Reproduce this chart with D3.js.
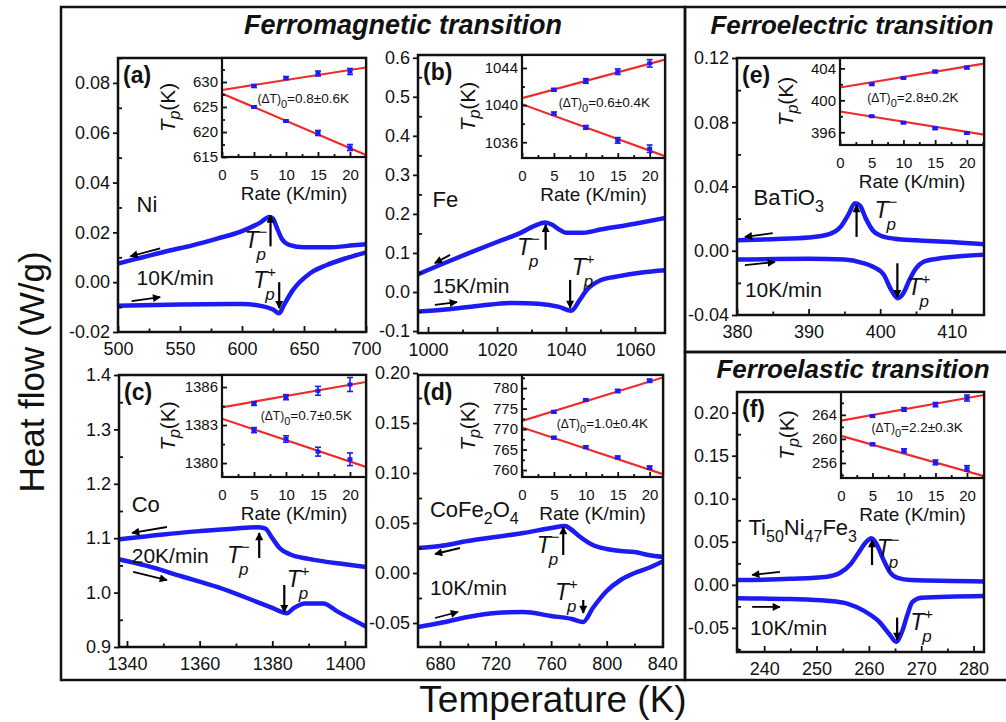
<!DOCTYPE html>
<html><head><meta charset="utf-8">
<script src="https://cdn.jsdelivr.net/npm/d3@7"></script>
<style>body{margin:0;background:#fff}svg{display:block}text{font-family:"Liberation Sans",Arial,sans-serif;fill:#111}</style>
</head><body><script>
// ---------------- DATA ----------------
// panel (a) Ni
const aCool=[[500,0.0075],[520,0.0100],[540,0.0125],[560,0.0148],[580,0.0175],[600,0.0205],[615,0.0240],[622,0.0262],[625,0.0255],[628,0.0220],[632,0.0175],[638,0.0150],[650,0.0140],[670,0.0140],[690,0.0148],[700,0.0152]];
const aHeat=[[500,-0.0095],[550,-0.0090],[600,-0.0088],[615,-0.0095],[625,-0.0110],[630,-0.0125],[634,-0.0090],[641,-0.0032],[655,0.0036],[668,0.0068],[685,0.0098],[700,0.0120]];
// panel (b) Fe
const bCool=[[997,0.045],[1005,0.075],[1012,0.100],[1020,0.128],[1027,0.152],[1031,0.170],[1034,0.178],[1036,0.172],[1038,0.160],[1040,0.152],[1045,0.152],[1050,0.160],[1060,0.175],[1069,0.190]];
const bHeat=[[997,-0.050],[1005,-0.045],[1015,-0.035],[1025,-0.028],[1032,-0.030],[1038,-0.038],[1041.5,-0.048],[1044,-0.020],[1046,0.005],[1050,0.030],[1055,0.040],[1062,0.050],[1069,0.056]];
// panel (c) Co
const cCool=[[1338,1.098],[1350,1.107],[1360,1.113],[1370,1.118],[1376,1.120],[1378,1.118],[1380,1.100],[1382,1.082],[1385,1.070],[1390,1.062],[1400,1.052],[1406,1.047]];
const cHeat=[[1338,1.061],[1345,1.050],[1355,1.030],[1365,1.010],[1375,0.985],[1380,0.972],[1384,0.962],[1386,0.972],[1389,0.980],[1394,0.980],[1398,0.965],[1406,0.937]];
// panel (d) CoFe2O4
const dCool=[[664,0.025],[680,0.027],[700,0.032],[720,0.036],[740,0.040],[760,0.045],[770,0.047],[774,0.044],[780,0.037],[790,0.028],[800,0.024],[810,0.022],[820,0.021],[830,0.018],[841,0.016]];
const dHeat=[[664,-0.054],[680,-0.050],[700,-0.044],[720,-0.040],[740,-0.039],[760,-0.043],[775,-0.046],[783,-0.049],[790,-0.035],[800,-0.018],[810,-0.007],[820,0.000],[830,0.005],[841,0.012]];
// panel (e) BaTiO3
const eCool=[[380,0.0065],[385,0.0072],[390,0.0082],[393,0.0105],[394.5,0.015],[395.5,0.022],[396.5,0.0295],[397.2,0.028],[398,0.020],[399,0.0125],[400,0.0095],[402,0.0075],[405,0.0065],[410,0.0055],[414.5,0.004]];
const eHeat=[[380,-0.0055],[390,-0.005],[395,-0.0055],[397.5,-0.0075],[399,-0.010],[400.5,-0.015],[401.5,-0.024],[402.4,-0.0295],[403.3,-0.026],[404,-0.019],[405,-0.011],[406,-0.007],[408,-0.005],[414.5,-0.0025]];
// panel (f) Ti50Ni47Fe3
const fCool=[[235,0.0055],[245,0.0070],[252,0.0095],[254.5,0.014],[256.5,0.024],[258,0.037],[259.5,0.050],[260.5,0.054],[261.5,0.047],[262.8,0.029],[264,0.015],[265.5,0.008],[268,0.0055],[282,0.004]];
const fHeat=[[235,-0.0155],[245,-0.0165],[252,-0.0185],[256,-0.022],[259,-0.030],[262,-0.043],[264,-0.058],[265.2,-0.066],[266.3,-0.055],[267.3,-0.036],[268.3,-0.020],[270,-0.015],[282,-0.013]];

// insets: rates, peak temperatures, error bars, fitted line ends (rate 0 and right edge)
const rates=[5,10,15,20];
const aUp=[629.2,630.8,631.7,632.1], aUpErr=[0.3,0.3,0.5,0.6], aDn=[625.0,622.2,619.8,616.9], aDnErr=[0.2,0.2,0.5,0.6], aFitUp=[628.4,632.9], aFitDn=[627.7,615.4];
const bUp=[1041.65,1042.6,1043.6,1044.5], bUpErr=[0.15,0.25,0.3,0.4], bDn=[1039.1,1037.6,1036.2,1035.3], bDnErr=[0.15,0.2,0.3,0.4], bFitUp=[1040.75,1044.9], bFitDn=[1040.1,1034.5];
const cUp=[1384.7,1385.2,1385.7,1386.2], cUpErr=[0.15,0.2,0.35,0.55], cDn=[1382.6,1381.9,1380.9,1380.3], cDnErr=[0.2,0.25,0.35,0.5], cFitUp=[1384.4,1386.4], cFitDn=[1383.5,1379.7];
const dUp=[774.2,777.1,779.3,781.8], dUpErr=[0.3,0.3,0.4,0.4], dDn=[767.9,765.6,763.1,760.6], dDnErr=[0.3,0.3,0.3,0.4], dFitUp=[772.0,782.6], dFitDn=[770.4,759.0];
const eUp=[402.0,402.8,403.6,404.1], eUpErr=[0.1,0.1,0.15,0.15], eDn=[398.0,397.2,396.5,395.9], eDnErr=[0.1,0.1,0.15,0.15], eFitUp=[401.6,404.6], eFitDn=[398.6,395.7];
const fUp=[263.8,264.9,265.7,266.8], fUpErr=[0.2,0.3,0.35,0.5], fDn=[259.1,258.05,256.1,255.1], fDnErr=[0.2,0.3,0.4,0.45], fFitUp=[263.05,267.3], fFitDn=[260.5,253.8];
const dTtext=["0.8\u00B10.6K","0.6\u00B10.4K","0.7\u00B10.5K","1.0\u00B10.4K","2.8\u00B10.2K","2.2\u00B10.3K"];

// tick labels
const aXT=[500,550,600,650,700], aYT=[-0.02,0,0.02,0.04,0.06,0.08];
const bXT=[1000,1020,1040,1060], bYT=[-0.1,0,0.1,0.2,0.3,0.4,0.5,0.6];
const cXT=[1340,1360,1380,1400], cYT=[0.9,1.0,1.1,1.2,1.3,1.4];
const dXT=[680,720,760,800,840], dYT=[-0.05,0,0.05,0.10,0.15,0.20];
const eXT=[380,390,400,410], eYT=[-0.04,0,0.04,0.08,0.12];
const fXT=[240,250,260,270,280], fYT=[-0.05,0,0.05,0.10,0.15,0.20];
const insXT=[0,5,10,15,20];
const aIYT=[615,620,625,630], bIYT=[1036,1040,1044], cIYT=[1380,1383,1386], dIYT=[760,765,770,775,780], eIYT=[396,400,404], fIYT=[256,260,264];

const panelLabels=["(a)","(b)","(c)","(d)","(e)","(f)"];
const names=[[["Ni",0]],[["Fe",0]],[["Co",0]],[["CoFe",0],["2",1],["O",0],["4",1]],[["BaTiO",0],["3",1]],[["Ti",0],["50",1],["Ni",0],["47",1],["Fe",0],["3",1]]];
const rateLabels=["10K/min","15K/min","20K/min","10K/min","10K/min","10K/min"];
const titles=["Ferromagnetic transition","Ferroelectric transition","Ferroelastic transition"];

// ---------------- LAYOUT ----------------
const W=1006,H=722;
const svg=d3.select("body").append("svg").attr("width",W).attr("height",H);
const defs=svg.append("defs");
defs.append("marker").attr("id","ah").attr("viewBox","0 0 10 10").attr("refX",9).attr("refY",5)
  .attr("markerWidth",9).attr("markerHeight",8).attr("markerUnits","userSpaceOnUse").attr("orient","auto")
  .append("path").attr("d","M0,0L10,5L0,10z").attr("fill","#000");

// outer frames
const fr=svg.append("g").attr("fill","none").attr("stroke","#111").attr("stroke-width",2.5);
fr.append("rect").attr("x",61).attr("y",7).attr("width",624).attr("height",673);
fr.append("rect").attr("x",685).attr("y",7).attr("width",330).attr("height",345);
fr.append("rect").attr("x",685).attr("y",352).attr("width",330).attr("height",328);

svg.append("text").attr("x",403).attr("y",34).attr("text-anchor","middle").attr("font-size",27).attr("font-weight","bold").attr("font-style","italic").text(titles[0]);
svg.append("text").attr("x",852).attr("y",34).attr("text-anchor","middle").attr("font-size",26).attr("font-weight","bold").attr("font-style","italic").text(titles[1]);
svg.append("text").attr("x",853).attr("y",378).attr("text-anchor","middle").attr("font-size",26).attr("font-weight","bold").attr("font-style","italic").text(titles[2]);
svg.append("text").attr("transform","translate(44,372) rotate(-90)").attr("text-anchor","middle").attr("font-size",35).text("Heat flow (W/g)");
svg.append("text").attr("x",553).attr("y",712).attr("text-anchor","middle").attr("font-size",37).text("Temperature (K)");

const panels=[
 {box:{x0:118,x1:366,y0:58,y1:332}, xd:[500,700], yd:[-0.02,0.09], xt:aXT, yt:aYT, xm:25, ym:0.01, yf:".2f", cool:aCool, heat:aHeat,
  ins:{box:{x0:222,x1:366,y0:58,y1:157}, xmax:22.5, yd:[615,634.8], yt:aIYT, ym:2.5, up:aUp, upE:aUpErr, dn:aDn, dnE:aDnErr, fu:aFitUp, fd:aFitDn, dt:[12.7,625.8]},
  name:[515,0.028], rate:[515,-0.0012], ca:[[534,0.0136],[510,0.0104]], ha:[[511,-0.0076],[534,-0.006]],
  up:[[623,0.0144],[623,0.0268]], dn:[[630,0],[630,-0.0104]], tm:[602,0.0136], tpl:[609,-0.0024]},
 {box:{x0:418,x1:665,y0:55,y1:333}, xd:[997.1,1068.7], yd:[-0.105,0.607], xt:bXT, yt:bYT, xm:10, ym:0.05, yf:".1f", cool:bCool, heat:bHeat,
  ins:{box:{x0:522,x1:665,y0:55,y1:158}, xmax:22.4, yd:[1034.3,1045.4], yt:bIYT, ym:2, up:bUp, upE:bUpErr, dn:bDn, dnE:bDnErr, fu:bFitUp, fd:bFitDn, dt:[12.9,1039.8]},
  name:[1001.3,0.218], rate:[1001.3,-0.003], ca:[[1006.4,0.095],[1002,0.074]], ha:[[1002,-0.033],[1008.4,-0.026]],
  up:[[1034.1,0.108],[1034.1,0.172]], dn:[[1041.2,0.031],[1041.2,-0.041]], tm:[1025.8,0.095], tpl:[1041.7,0.044]},
 {box:{x0:119,x1:366,y0:375,y1:647}, xd:[1337.8,1405.8], yd:[0.9,1.4], xt:cXT, yt:cYT, xm:10, ym:0.05, yf:".1f", cool:cCool, heat:cHeat,
  ins:{box:{x0:222,x1:366,y0:375,y1:477}, xmax:22.5, yd:[1378.9,1386.95], yt:cIYT, ym:1.5, up:cUp, upE:cUpErr, dn:cDn, dnE:cDnErr, fu:cFitUp, fd:cFitDn, dt:[13.2,1383.4]},
  name:[1341.3,1.149], rate:[1341.3,1.054], ca:[[1351,1.1206],[1341.4,1.1096]], ha:[[1341.7,1.038],[1351,1.023]],
  up:[[1376.4,1.0636],[1376.4,1.1096]], dn:[[1383.3,1.014],[1383.3,0.964]], tm:[1367.5,1.054], tpl:[1384,1.011]},
 {box:{x0:418,x1:663,y0:375,y1:647}, xd:[664.2,840.5], yd:[-0.074,0.198], xt:dXT, yt:dYT, xm:20, ym:0.025, yf:".2f", cool:dCool, heat:dHeat,
  ins:{box:{x0:522,x1:663,y0:375,y1:477}, xmax:22.1, yd:[758.3,783.2], yt:dIYT, ym:2.5, up:dUp, upE:dUpErr, dn:dDn, dnE:dDnErr, fu:dFitUp, fd:dFitDn, dt:[12.6,770.3]},
  name:[672.8,0.0563], rate:[672.8,-0.022], ca:[[694.4,0.025],[676.4,0.019]], ha:[[676.4,-0.045],[693,-0.039]],
  up:[[768.7,0.018],[768.7,0.046]], dn:[[783.1,-0.027],[783.1,-0.040]], tm:[749.6,0.0197], tpl:[762.7,-0.027]},
 {box:{x0:737,x1:984,y0:58,y1:315}, xd:[380,414.5], yd:[-0.04,0.12], xt:eXT, yt:eYT, xm:5, ym:0.02, yf:".2f", cool:eCool, heat:eHeat,
  ins:{box:{x0:840,x1:984,y0:58,y1:145}, xmax:22.7, yd:[394.4,405.3], yt:eIYT, ym:2, up:eUp, upE:eUpErr, dn:eDn, dnE:eDnErr, fu:eFitUp, fd:eFitDn, dt:[11.5,399.8]},
  name:[382.3,0.0285], rate:[381.1,-0.0286], ca:[[385,0.011],[381.1,0.0086]], ha:[[381.1,-0.0089],[385.3,-0.007]],
  up:[[396.7,0.0086],[396.7,0.0285]], dn:[[402.4,-0.0078],[402.4,-0.0289]], tm:[399.2,0.0202], tpl:[403.8,-0.0276]},
 {box:{x0:737,x1:984,y0:392,y1:652}, xd:[234.8,282], yd:[-0.078,0.224], xt:fXT, yt:fYT, xm:5, ym:0.025, yf:".2f", cool:fCool, heat:fHeat,
  ins:{box:{x0:841,x1:984,y0:392,y1:478}, xmax:22.7, yd:[253.5,267.8], yt:fIYT, ym:2, up:fUp, upE:fUpErr, dn:fDn, dnE:fDnErr, fu:fFitUp, fd:fFitDn, dt:[12.1,261.2]},
  name:[237.0,0.058], rate:[237.3,-0.058], ca:[[243,0.015],[237.7,0.0116]], ha:[[237.7,-0.0256],[243,-0.0256]],
  up:[[260.6,0.023],[260.6,0.052]], dn:[[265.4,-0.038],[265.4,-0.064]], tm:[261.5,0.033], tpl:[267.9,-0.052]}
];

const BLUE="#1c1cf2", RED="#f02a2a";
const dash=s=>s.replace("\u2212","-");

function minorVals(dom,step){const out=[];const s=Math.ceil(dom[0]/step-1e-9);for(let k=s;k*step<=dom[1]+1e-9;k++)out.push(+(k*step).toFixed(6));return out;}

function styleAxis(g,fs){g.select(".domain").remove();g.selectAll(".tick line").attr("stroke","#111").attr("stroke-width",1.8);g.selectAll("text").attr("font-size",fs).attr("font-family","'Liberation Sans',Arial,sans-serif").attr("fill","#111");}

function tp(g,x,y,sign){
  const t=g.append("g").attr("transform",`translate(${x},${y})`);
  t.append("text").attr("font-family","'Liberation Serif','DejaVu Serif',serif").attr("font-style","italic").attr("font-size",23).text("T");
  t.append("text").attr("x",12).attr("y",12).attr("font-family","'Liberation Serif','DejaVu Serif',serif").attr("font-style","italic").attr("font-size",17).text("p");
  t.append("text").attr("x",14).attr("y",-11).attr("font-family","'Liberation Serif','DejaVu Serif',serif").attr("font-size",15).text(sign);
}

panels.forEach((p,i)=>{
  const g=svg.append("g");
  const b=p.box;
  const x=d3.scaleLinear().domain(p.xd).range([b.x0,b.x1]);
  const y=d3.scaleLinear().domain(p.yd).range([b.y1,b.y0]);
  const cid="clip"+i;
  defs.append("clipPath").attr("id",cid).append("rect").attr("x",b.x0).attr("y",b.y0).attr("width",b.x1-b.x0).attr("height",b.y1-b.y0);
  const line=d3.line().x(d=>x(d[0])).y(d=>y(d[1])).curve(d3.curveMonotoneX);
  const cg=g.append("g").attr("clip-path",`url(#${cid})`);
  [p.cool,p.heat].forEach(s=>cg.append("path").datum(s).attr("d",line).attr("fill","none").attr("stroke",BLUE).attr("stroke-width",4.5).attr("stroke-linejoin","round").attr("stroke-linecap","round"));

  // axes
  const fmt=d3.format(p.yf);
  g.append("g").attr("transform",`translate(0,${b.y1})`).call(d3.axisBottom(x).tickValues(p.xt).tickSize(-6).tickPadding(10).tickFormat(d3.format("d"))).call(s=>styleAxis(s,18));
  g.append("g").attr("transform",`translate(0,${b.y1})`).call(d3.axisBottom(x).tickValues(minorVals(p.xd,p.xm).filter(v=>!p.xt.includes(v))).tickSize(-3.5).tickFormat("")).call(s=>styleAxis(s,18));
  g.append("g").attr("transform",`translate(${b.x0},0)`).call(d3.axisLeft(y).tickValues(p.yt).tickSize(5).tickPadding(3).tickFormat(d=>dash(fmt(d)))).call(s=>styleAxis(s,18));
  g.append("g").attr("transform",`translate(${b.x0},0)`).call(d3.axisLeft(y).tickValues(minorVals(p.yd,p.ym).filter(v=>!p.yt.some(t=>Math.abs(t-v)<1e-9))).tickSize(-4).tickFormat("")).call(s=>styleAxis(s,18));
  g.append("rect").attr("x",b.x0).attr("y",b.y0).attr("width",b.x1-b.x0).attr("height",b.y1-b.y0).attr("fill","none").attr("stroke","#111").attr("stroke-width",2.5);

  // panel label
  g.append("text").attr("x",b.x0+5).attr("y",b.y0+25).attr("font-size",23).attr("font-weight","bold").text(panelLabels[i]);
  // material name
  const nt=g.append("text").attr("x",x(p.name[0])).attr("y",y(p.name[1])).attr("font-size",22);
  let sub=false;
  names[i].forEach(([s,isSub])=>{
    const ts=nt.append("tspan").text(s);
    if(isSub&&!sub){ts.attr("dy",7).attr("font-size",16);sub=true;}
    else if(isSub){ts.attr("font-size",16);}
    else if(!isSub&&sub){ts.attr("dy",-7);sub=false;}
  });
  g.append("text").attr("x",x(p.rate[0])).attr("y",y(p.rate[1])).attr("font-size",21).text(rateLabels[i]);
  // arrows
  [p.ca,p.ha].forEach(a=>g.append("line").attr("x1",x(a[0][0])).attr("y1",y(a[0][1])).attr("x2",x(a[1][0])).attr("y2",y(a[1][1])).attr("stroke","#000").attr("stroke-width",1.8).attr("marker-end","url(#ah)"));
  [p.up,p.dn].forEach(a=>g.append("line").attr("x1",x(a[0][0])).attr("y1",y(a[0][1])).attr("x2",x(a[1][0])).attr("y2",y(a[1][1])).attr("stroke","#000").attr("stroke-width",2.2).attr("marker-end","url(#ah)"));
  tp(g,x(p.tm[0]),y(p.tm[1]),"\u2212");
  tp(g,x(p.tpl[0]),y(p.tpl[1]),"+");

  // inset
  const q=p.ins, ib=q.box;
  const ix=d3.scaleLinear().domain([0,q.xmax]).range([ib.x0,ib.x1]);
  const iy=d3.scaleLinear().domain(q.yd).range([ib.y1,ib.y0]);
  const ig=g.append("g");
  ig.append("rect").attr("x",ib.x0).attr("y",ib.y0).attr("width",ib.x1-ib.x0).attr("height",ib.y1-ib.y0).attr("fill","#fff");
  const icid="iclip"+i;
  defs.append("clipPath").attr("id",icid).append("rect").attr("x",ib.x0).attr("y",ib.y0).attr("width",ib.x1-ib.x0).attr("height",ib.y1-ib.y0);
  const fl=ig.append("g").attr("clip-path",`url(#${icid})`);
  [q.fu,q.fd].forEach(f=>fl.append("line").attr("x1",ix(0)).attr("y1",iy(f[0])).attr("x2",ix(q.xmax)).attr("y2",iy(f[1])).attr("stroke",RED).attr("stroke-width",2.2));
  [[q.up,q.upE],[q.dn,q.dnE]].forEach(([vals,errs])=>{
    vals.forEach((v,k)=>{
      const cx=ix(rates[k]);
      ig.append("line").attr("x1",cx).attr("x2",cx).attr("y1",iy(v-errs[k])).attr("y2",iy(v+errs[k])).attr("stroke",BLUE).attr("stroke-width",1.6);
      [v-errs[k],v+errs[k]].forEach(e=>ig.append("line").attr("x1",cx-3).attr("x2",cx+3).attr("y1",iy(e)).attr("y2",iy(e)).attr("stroke",BLUE).attr("stroke-width",1.6));
      ig.append("rect").attr("x",cx-2.5).attr("y",iy(v)-2).attr("width",5).attr("height",4).attr("fill",BLUE);
    });
  });
  ig.append("g").attr("transform",`translate(0,${ib.y1})`).call(d3.axisBottom(ix).tickValues(insXT).tickSize(-5).tickPadding(12).tickFormat(d3.format("d"))).call(s=>styleAxis(s,15));
  ig.append("g").attr("transform",`translate(0,${ib.y1})`).call(d3.axisBottom(ix).tickValues([2.5,7.5,12.5,17.5,22.5].filter(v=>v<q.xmax)).tickSize(-3).tickFormat("")).call(s=>styleAxis(s,15));
  ig.append("g").attr("transform",`translate(${ib.x0},0)`).call(d3.axisLeft(iy).tickValues(q.yt).tickSize(-5).tickPadding(4).tickFormat(d3.format("d"))).call(s=>styleAxis(s,15));
  ig.append("g").attr("transform",`translate(${ib.x0},0)`).call(d3.axisLeft(iy).tickValues(minorVals(q.yd,q.ym).filter(v=>!q.yt.includes(v))).tickSize(-3).tickFormat("")).call(s=>styleAxis(s,15));
  ig.append("rect").attr("x",ib.x0).attr("y",ib.y0).attr("width",ib.x1-ib.x0).attr("height",ib.y1-ib.y0).attr("fill","none").attr("stroke","#111").attr("stroke-width",2.2);
  ig.append("text").attr("x",(ib.x0+ib.x1)/2).attr("y",ib.y1+43).attr("text-anchor","middle").attr("font-size",19).text("Rate (K/min)");
  const yl=ig.append("text").attr("transform",`translate(${ib.x0-47},${(ib.y0+ib.y1)/2}) rotate(-90)`).attr("text-anchor","middle").attr("font-size",21);
  yl.append("tspan").attr("font-style","italic").text("T");
  yl.append("tspan").attr("font-style","italic").attr("font-size",16).attr("dy",5).text("p");
  yl.append("tspan").attr("dy",-5).text("(K)");
  const dtx=ig.append("text").attr("x",ix(q.dt[0])).attr("y",iy(q.dt[1])).attr("text-anchor","middle").attr("font-size",13.5);
  dtx.append("tspan").attr("font-size",12).text("(\u0394T)");
  dtx.append("tspan").attr("font-size",11).attr("dy",5).text("0");
  dtx.append("tspan").attr("dy",-5).text("="+dTtext[i]);
});
</script></body></html>
